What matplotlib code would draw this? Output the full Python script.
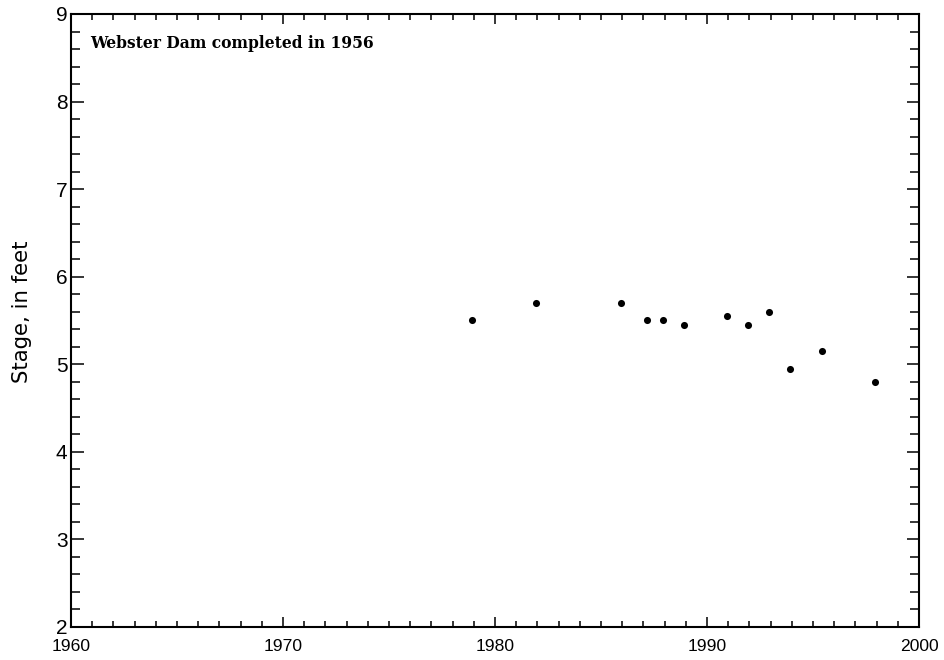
import matplotlib
matplotlib.use('Agg')
import matplotlib.pyplot as plt
from matplotlib.ticker import MultipleLocator

plt.rcParams['font.family'] = ['Liberation Sans', 'DejaVu Sans']

years = [1978.93, 1981.93, 1985.93, 1987.19, 1987.94, 1988.93,
         1990.93, 1991.93, 1992.92, 1993.93, 1995.44, 1997.94]
stage = [5.50, 5.70, 5.70, 5.50, 5.50, 5.45,
         5.55, 5.45, 5.60, 4.95, 5.15, 4.80]

NOTE = 'Webster Dam completed in 1956'

fig = plt.figure(figsize=(9.45, 6.60), dpi=100)
ax = fig.add_axes([0.0751, 0.05, 0.8974, 0.9288])

ax.scatter(years, stage, s=26, color='black', linewidths=0, zorder=3)

ax.set_xlim(1960, 2000)
ax.set_ylim(2, 9)
ax.xaxis.set_major_locator(MultipleLocator(10))
ax.xaxis.set_minor_locator(MultipleLocator(1))
ax.yaxis.set_major_locator(MultipleLocator(1))
ax.yaxis.set_minor_locator(MultipleLocator(0.2))

ax.tick_params(which='both', direction='in', top=True, right=True, width=1.1, colors='black')
ax.tick_params(axis='x', which='major', length=7.5, labelsize=12.6, pad=8.5)
ax.tick_params(axis='x', which='minor', length=4.2)
ax.tick_params(axis='y', which='major', length=9, labelsize=15, pad=2.5)
ax.tick_params(axis='y', which='minor', length=6.7)
for sp in ax.spines.values():
    sp.set_linewidth(1.5)

ax.set_ylabel('Stage, in feet', fontsize=15.3, family='DejaVu Sans')
ax.yaxis.label.set_va('center')
ax.yaxis.set_label_coords(-0.058, 0.515)

ax.text(0.022, 0.952, NOTE, transform=ax.transAxes, fontsize=11.2,
        fontweight='bold', family='DejaVu Serif', va='center', ha='left')

fig.savefig('out.png', dpi=100)
